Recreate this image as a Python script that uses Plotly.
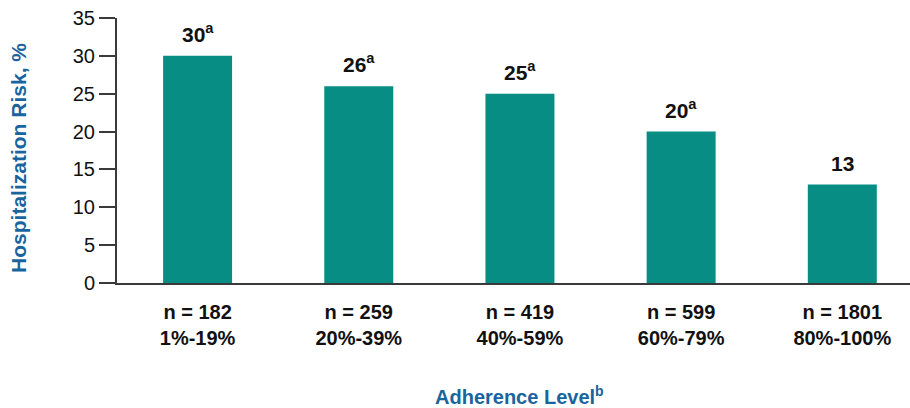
import plotly.graph_objects as go

# Hospitalization risk by adherence level
levels = ["1%-19%", "20%-39%", "40%-59%", "60%-79%", "80%-100%"]
n_patients = [182, 259, 419, 599, 1801]
risk_pct = [30, 26, 25, 20, 13]
risk_notes = ["a", "a", "a", "a", ""]
y_ticks = [0, 5, 10, 15, 20, 25, 30, 35]

TEAL = "#078d83"
BLUE = "#1a649e"
INK = "#111111"
AXIS = "#3a3a3a"
FONT = "Liberation Sans, Arial, sans-serif"

positions = list(range(len(levels)))
tick_text = [f"<b>n = {n}<br>{lvl}</b>" for n, lvl in zip(n_patients, levels)]

fig = go.Figure(
    go.Bar(
        x=positions,
        y=risk_pct,
        width=0.428,
        marker=dict(color=TEAL, line=dict(width=0)),
        hoverinfo="skip",
    )
)

# value labels above each bar
for x, v, note in zip(positions, risk_pct, risk_notes):
    sup = f"<sup>{note}</sup>" if note else ""
    fig.add_annotation(
        x=x, y=v, xref="x", yref="y",
        text=f"<b>{v}{sup}</b>",
        showarrow=False, yanchor="bottom", yshift=8,
        font=dict(family=FONT, size=21, color=INK),
    )

# axis titles
fig.add_annotation(
    x=-0.1236, y=0.472, xref="paper", yref="paper",
    text="<b>Hospitalization Risk, %</b>", textangle=-90,
    showarrow=False, xanchor="center", yanchor="middle",
    font=dict(family=FONT, size=21, color=BLUE),
)
fig.add_annotation(
    x=0.508, y=-0.424, xref="paper", yref="paper",
    text="<b>Adherence Level<sup>b</sup></b>",
    showarrow=False, xanchor="center", yanchor="middle",
    font=dict(family=FONT, size=20, color=BLUE),
)

fig.update_layout(
    width=910, height=408,
    margin=dict(l=117, r=0, t=18, b=125),
    paper_bgcolor="white", plot_bgcolor="white",
    showlegend=False,
    font=dict(family=FONT, color=INK),
    xaxis=dict(
        range=[-0.5, 4.42],
        tickmode="array", tickvals=positions, ticktext=tick_text,
        tickfont=dict(family=FONT, size=20, color=INK),
        showgrid=False, zeroline=False,
        showline=True, linecolor=AXIS, linewidth=2,
        ticks="", ticklabelstandoff=10,
        fixedrange=True,
    ),
    yaxis=dict(
        range=[0, 35],
        tickmode="array", tickvals=y_ticks,
        tickfont=dict(family=FONT, size=20, color=INK),
        showgrid=False, zeroline=False,
        showline=True, linecolor=AXIS, linewidth=2,
        ticks="outside", ticklen=16, tickwidth=2, tickcolor=AXIS,
        fixedrange=True,
    ),
)

fig.write_html("out.html")
